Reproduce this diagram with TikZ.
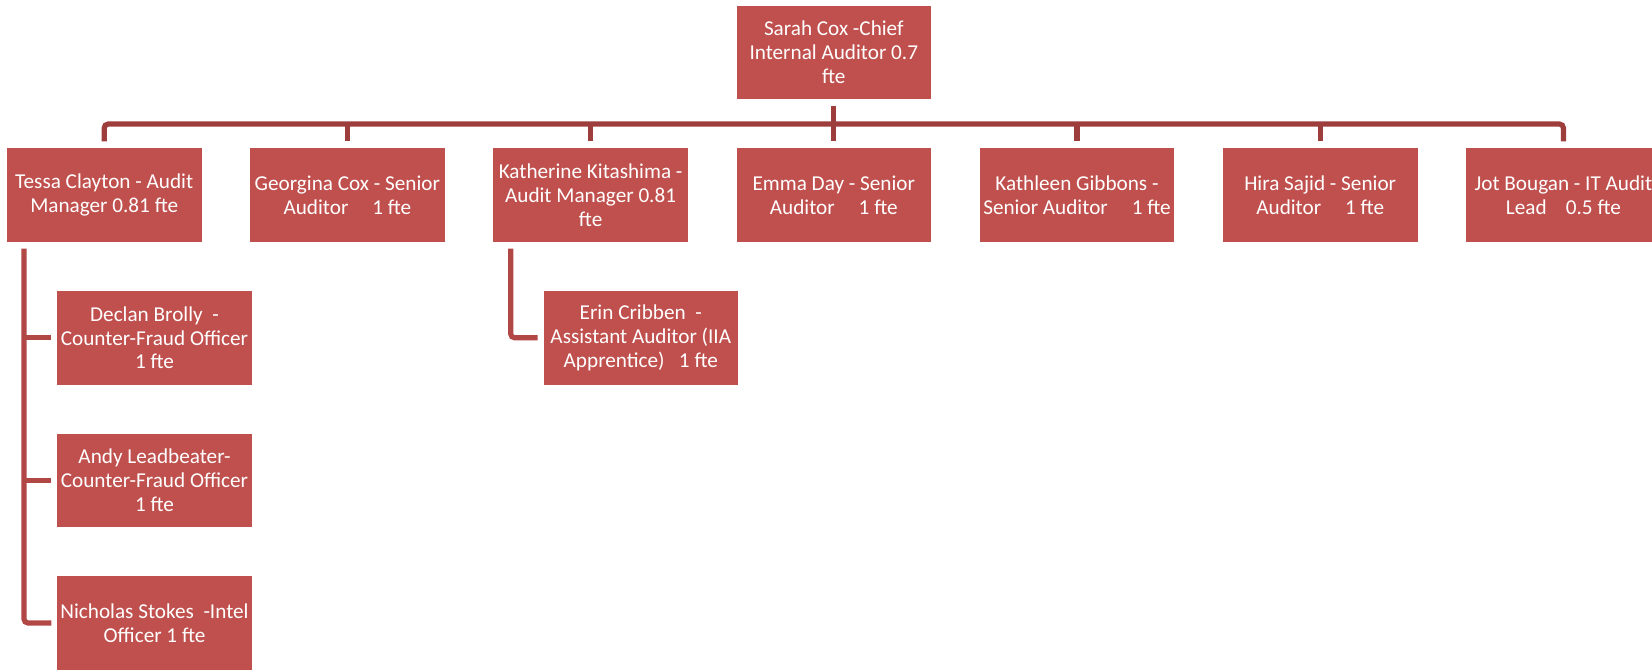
\documentclass[tikz,border=0pt]{standalone}
\usepackage{fontspec}
\setmainfont{Carlito}
\definecolor{boxred}{RGB}{192,80,77}
\definecolor{linkred}{RGB}{158,62,60}
\definecolor{sublinkred}{RGB}{178,72,70}
\tikzset{every picture/.style={line width=0.75pt}}
\tikzset{
  staff/.style={fill=boxred, draw=white, line width=0.4pt, text=white, minimum width=97.75pt, minimum height=47.2pt, inner sep=0pt, align=center, font=\fontsize{10.6}{11.9}\selectfont},
  link/.style={draw=linkred, line width=2.6pt},
  sublink/.style={draw=sublinkred, line width=2.6pt},
}
\begin{document}
\begin{tikzpicture}[x=0.5pt,y=0.5pt,yscale=-1,xscale=1]
    %set diagram size: 1652 x 671
    \clip (0,0) rectangle (1652,671);

    % Text Node
    \node [staff] (chief) at (833.8,52.2) {Sarah Cox -Chief\\Internal Auditor 0.7\\fte};
    % Text Node
    \node [staff] (tessa) at (104.2,195) {Tessa Clayton - Audit\\Manager 0.81 fte};
    % Text Node
    \node [staff] (georgina) at (347.4,195) {Georgina Cox - Senior\\Auditor~~~~~1 fte};
    % Text Node
    \node [staff] (katherine) at (590.6,195) {Katherine Kitashima -\\Audit Manager 0.81\\fte};
    % Text Node
    \node [staff] (emma) at (833.8,195) {Emma Day - Senior\\Auditor~~~~~1 fte};
    % Text Node
    \node [staff] (kathleen) at (1077,195) {Kathleen Gibbons -\\Senior Auditor~~~~~1 fte};
    % Text Node
    \node [staff] (hira) at (1320.2,195) {Hira Sajid - Senior\\Auditor~~~~~1 fte};
    % Text Node
    \node [staff] (jot) at (1563.4,195) {Jot Bougan - IT Audit\\Lead~~~~0.5 fte};
    % Text Node
    \node [staff] (declan) at (154.5,337.8) {Declan Brolly~ -\\Counter-Fraud Officer\\1 fte};
    % Text Node
    \node [staff] (andy) at (154.5,480.5) {Andy Leadbeater-\\Counter-Fraud Officer\\1 fte};
    % Text Node
    \node [staff] (nicholas) at (154.5,623) {Nicholas Stokes~ -Intel\\Officer 1 fte};
    % Text Node
    \node [staff] (erin) at (640.8,337.8) {Erin Cribben~ -\\Assistant Auditor (IIA\\Apprentice)~~ 1 fte};

    %Bus line
    \coordinate (bus) at (0,124);
    \coordinate (tdrop) at (24,0);
    \coordinate (kdrop) at (510.7,0);

    %Straight Lines
    \draw [link, rounded corners=2pt, shorten <=3pt, shorten >=3pt] (tessa.north) |- (jot.north |- bus) -- (jot.north);
    \draw [link, shorten <=3pt] (chief.south) -- (chief.south |- bus);
    \draw [link, shorten >=3pt] (emma.north |- bus) -- (emma.north);
    \draw [link, shorten >=3pt] (georgina.north |- bus) -- (georgina.north);
    \draw [link, shorten >=3pt] (katherine.north |- bus) -- (katherine.north);
    \draw [link, shorten >=3pt] (kathleen.north |- bus) -- (kathleen.north);
    \draw [link, shorten >=3pt] (hira.north |- bus) -- (hira.north);

    %Straight Lines
    \draw [sublink, rounded corners=2pt, shorten <=3pt, shorten >=2.5pt] (tdrop |- tessa.south) |- (nicholas.west);
    \draw [sublink, shorten >=2.5pt] (tdrop |- declan.west) -- (declan.west);
    \draw [sublink, shorten >=2.5pt] (tdrop |- andy.west) -- (andy.west);
    \draw [sublink, rounded corners=2pt, shorten <=3pt, shorten >=2.5pt] (kdrop |- katherine.south) |- (erin.west);

\end{tikzpicture}
\end{document}
